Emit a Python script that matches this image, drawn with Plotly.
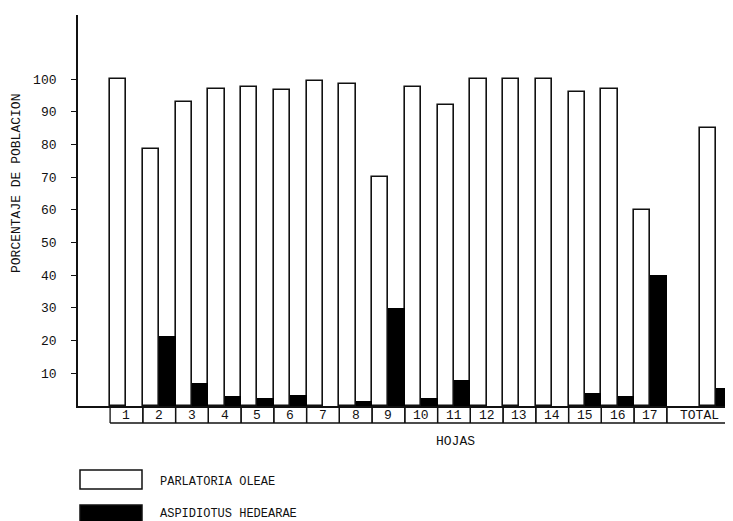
import plotly.graph_objects as go

# ---- data ----
categories = ["1", "2", "3", "4", "5", "6", "7", "8", "9", "10",
              "11", "12", "13", "14", "15", "16", "17", "TOTAL"]
parlatoria = [100, 78.5, 93, 97, 97.5, 96.5, 99.5, 98.5, 70, 97.5,
              92, 100, 100, 100, 96, 97, 60, 85]
aspidiotus = [0, 21.5, 7, 3, 2.5, 3.5, 0, 1.5, 30, 2.5,
              8, 0, 0, 0, 4, 3, 40, 5.5]
y_ticks = [10, 20, 30, 40, 50, 60, 70, 80, 90, 100]
series_names = ["PARLATORIA OLEAE", "ASPIDIOTUS HEDEARAE"]
x_title = "HOJAS"
y_title = "PORCENTAJE DE POBLACION"

# ---- layout geometry (reference pixel coords; page has an 8px body margin) ----
OFF = 8
PAGE_W, PAGE_H = 733, 521
W, H = PAGE_W - OFF, PAGE_H - OFF
AX_X, TOP_Y, BASE_Y = 78, 15, 406          # in page pixels
M_L, M_R, M_T, M_B = AX_X - OFF, 0, TOP_Y - OFF, PAGE_H - BASE_Y
PLOT_W = W - M_L - M_R
PLOT_H = H - M_T - M_B
FONT = "Liberation Mono, Courier New, monospace"
INK = "#111111"

# x positions: numbered leaves 1..n, TOTAL after a one-slot gap
n = len(categories) - 1
xpos = list(range(1, n + 1)) + [n + 2]
box_spans = [(x - 0.5, x + 0.5) for x in xpos[:-1]] + [(n + 0.5, n + 2.5)]


def py(pix):
    """page pixel y -> paper y"""
    return (BASE_Y - pix) / PLOT_H


def px(pix):
    """page pixel x -> paper x"""
    return (pix - AX_X) / PLOT_W


fig = go.Figure()
fig.add_trace(go.Bar(x=xpos, y=parlatoria, name=series_names[0],
                     marker=dict(color="white", line=dict(color=INK, width=1.6))))
fig.add_trace(go.Bar(x=xpos, y=aspidiotus, name=series_names[1],
                     marker=dict(color="black", line=dict(color="black", width=0))))

shapes = []
row_top, row_bot = py(BASE_Y), py(423)
for a, b in box_spans:
    for xx in (a, b):
        shapes.append(dict(type="line", xref="x", yref="paper", x0=xx, x1=xx,
                           y0=row_top, y1=row_bot, line=dict(color=INK, width=1.3)))
shapes.append(dict(type="line", xref="x", yref="paper", x0=box_spans[0][0],
                   x1=box_spans[-1][1], y0=row_bot, y1=row_bot,
                   line=dict(color=INK, width=1.5)))

annotations = []
for (a, b), lab in zip(box_spans, categories):
    annotations.append(dict(x=(a + b) / 2, y=py(415), xref="x", yref="paper",
                            text=lab, showarrow=False, xanchor="center",
                            yanchor="middle", font=dict(family=FONT, size=13, color=INK)))

annotations.append(dict(x=px(455), y=py(441), xref="paper", yref="paper", text=x_title,
                        showarrow=False, xanchor="center", yanchor="middle",
                        font=dict(family=FONT, size=13, color=INK)))
annotations.append(dict(x=px(16), y=py(184), xref="paper", yref="paper", text=y_title,
                        textangle=-90, showarrow=False, xanchor="center", yanchor="middle",
                        font=dict(family=FONT, size=13, color=INK)))

# custom legend
legend_rows = [(470, 489, "white"), (505, 530, "black")]
for (top, bot, col), name in zip(legend_rows, series_names):
    shapes.append(dict(type="rect", xref="paper", yref="paper",
                       x0=px(80), x1=px(142), y0=py(bot), y1=py(top), fillcolor=col,
                       line=dict(color=INK, width=1.5)))
    annotations.append(dict(xref="paper", yref="paper", x=px(158),
                            y=py(482 if col == "white" else 514), text=name,
                            showarrow=False, xanchor="left", yanchor="middle",
                            font=dict(family=FONT, size=12, color=INK)))

fig.update_layout(
    width=W, height=H,
    margin=dict(l=M_L, r=M_R, t=M_T, b=M_B),
    paper_bgcolor="white", plot_bgcolor="white",
    barmode="group", bargap=0, bargroupgap=0,
    showlegend=False,
    shapes=shapes, annotations=annotations,
    xaxis=dict(range=[-0.48, n + 2.52], showticklabels=False, ticks="",
               showgrid=False, zeroline=False, showline=True,
               linecolor=INK, linewidth=2.2),
    yaxis=dict(range=[0, (BASE_Y - TOP_Y) / 3.27], tickvals=y_ticks, ticks="outside",
               ticklen=5, tickwidth=1.3, tickcolor=INK, showgrid=False, zeroline=False,
               showline=True, linecolor=INK, linewidth=1.8,
               ticklabelstandoff=12,
               tickfont=dict(family=FONT, size=13, color=INK)),
)

fig.write_html("out.html")
